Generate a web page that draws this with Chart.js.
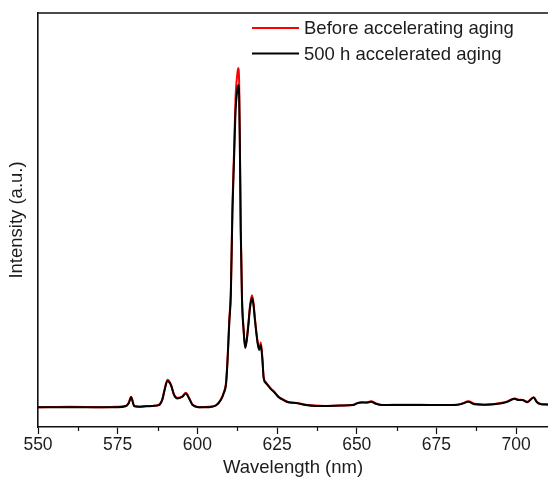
<!DOCTYPE html>
<html>
<head>
<meta charset="utf-8">
<script src="https://cdn.jsdelivr.net/npm/chart.js@4.4.0/dist/chart.umd.min.js"></script>
<style>
  html, body { margin: 0; padding: 0; background: #fff; }
</style>
</head>
<body>
<canvas id="spectrum" width="548" height="477"></canvas>
<script>
// emission spectra, values (arbitrary units)
var wavelength = [550, 560, 570, 575, 577.5, 578.5, 579.2, 580.2, 581.8, 584, 586, 588, 589, 589.6, 590.6,
    591.7, 592.7, 593.8, 595.3, 596.4, 597.4, 598.5, 600.5, 603.7, 605.8, 607.4, 608.3, 609, 609.5, 610,
    610.5, 611, 611.5, 612, 612.5, 612.8, 613.1, 613.3, 613.6, 614, 614.5, 615, 615.5, 616, 616.5,
    617.1, 617.6, 618, 618.5, 619, 619.4, 619.9, 620.4, 620.8, 621.5, 622.3, 623, 624, 625.5, 627,
    628.5, 631, 634, 637, 640, 645, 649, 650, 651.5, 653, 654.5, 656, 658, 665, 675,
    681, 683, 685, 687, 690, 695, 697, 699.5, 700.8, 702, 703.5, 705.5, 706.5, 708, 710];

var beforeAging = [48, 49, 48, 49, 51, 59, 73, 51, 49, 51, 51, 54, 67, 87, 114,
    103, 78, 70, 74, 83, 70, 54, 48, 49, 52, 67, 84, 108, 170, 258,
    330, 535, 665, 800, 850, 867, 835, 715, 485, 312, 237, 193, 213, 250, 292,
    318, 300, 267, 230, 201, 189, 204, 166, 120, 108, 100, 93, 86, 73, 66,
    60, 58, 54, 52, 51, 52, 54, 57, 60, 59, 62, 57, 53, 54, 53,
    54, 56, 62, 56, 54, 58, 61, 69, 66, 65, 61, 72, 61, 55, 55];

var afterAging = [48, 48, 48, 48, 50, 58, 72, 50, 49, 50, 51, 53, 66, 85, 111,
    101, 77, 69, 73, 81, 69, 53, 48, 48, 52, 66, 82, 105, 165, 250,
    320, 520, 645, 766, 812, 826, 800, 700, 476, 307, 234, 191, 210, 246, 287,
    312, 295, 263, 227, 198, 186, 198, 162, 118, 106, 99, 92, 85, 72, 65,
    60, 58, 53, 51, 51, 52, 53, 57, 59, 59, 61, 56, 53, 53, 53,
    53, 56, 61, 55, 54, 57, 60, 68, 65, 65, 60, 71, 60, 55, 54];

var seriesLabels = ['Before accelerating aging', '500 h accelerated aging'];
var xMin = 550, xMax = 710, xStep = 25;

function points(vals) {
    return wavelength.map(function (w, i) { return { x: w, y: vals[i] }; });
}

var textColor = '#1c1c1c';
var frameColor = '#111';

// top frame line + minor ticks on x axis
var framePlugin = {
    id: 'frame',
    afterDraw: function (chart) {
        var ctx = chart.ctx, a = chart.chartArea, sx = chart.scales.x;
        ctx.save();
        ctx.strokeStyle = frameColor;
        ctx.lineWidth = 1.6;
        ctx.beginPath();
        ctx.moveTo(a.left, a.top);
        ctx.lineTo(a.right, a.top);
        ctx.stroke();
        ctx.lineWidth = 1.2;
        for (var v = xMin + xStep / 2; v <= xMax; v += xStep) {
            var px = Math.round(sx.getPixelForValue(v)) + 0.5;
            ctx.beginPath();
            ctx.moveTo(px, a.bottom);
            ctx.lineTo(px, a.bottom + 4);
            ctx.stroke();
        }
        ctx.restore();
    }
};

// legend inside the plot, top right
var legendPlugin = {
    id: 'insideLegend',
    afterDraw: function (chart) {
        var ctx = chart.ctx;
        ctx.save();
        ctx.font = '18.5px "Liberation Sans", Arial, sans-serif';
        ctx.textBaseline = 'middle';
        ctx.fillStyle = textColor;
        chart.data.datasets.forEach(function (ds, i) {
            var y = 28 + i * 25.5;
            ctx.strokeStyle = ds.borderColor;
            ctx.lineWidth = 2;
            ctx.beginPath();
            ctx.moveTo(252, y);
            ctx.lineTo(299, y);
            ctx.stroke();
            ctx.fillText(ds.label, 304, y + 1);
        });
        ctx.restore();
    }
};

var ctx = document.getElementById('spectrum').getContext('2d');
var myChart = new Chart(ctx, {
    type: 'line',
    data: {
        datasets: [{
            label: seriesLabels[0],
            data: points(beforeAging),
            borderColor: '#ff0000',
            borderWidth: 2,
            pointRadius: 0,
            cubicInterpolationMode: 'monotone',
            order: 1
        }, {
            label: seriesLabels[1],
            data: points(afterAging),
            borderColor: '#000000',
            borderWidth: 2,
            pointRadius: 0,
            cubicInterpolationMode: 'monotone',
            order: 0
        }]
    },
    options: {
        responsive: false,
        animation: false,
        layout: { padding: { top: 13, right: 0, left: 0, bottom: 0 } },
        plugins: {
            legend: { display: false },
            tooltip: { enabled: false }
        },
        scales: {
            x: {
                type: 'linear',
                min: xMin,
                max: xMax,
                border: { display: true, color: frameColor, width: 1.6 },
                grid: { display: true, drawOnChartArea: false, drawTicks: true, tickLength: 7, tickColor: frameColor, tickWidth: 1.2 },
                ticks: {
                    stepSize: xStep,
                    includeBounds: false,
                    padding: 1,
                    color: textColor,
                    font: { family: '"Liberation Sans", Arial, sans-serif', size: 17.5 },
                    maxRotation: 0,
                    autoSkip: false
                },
                title: {
                    display: true,
                    text: 'Wavelength (nm)',
                    color: textColor,
                    font: { family: '"Liberation Sans", Arial, sans-serif', size: 18.5, lineHeight: 1 },
                    padding: { top: 0, bottom: 0 }
                },
                afterFit: function (scale) { scale.height = 50; }
            },
            y: {
                min: 0,
                max: 1000,
                border: { display: true, color: frameColor, width: 1.6 },
                grid: { display: true, drawOnChartArea: false, drawTicks: false },
                ticks: { display: false },
                title: {
                    display: true,
                    text: 'Intensity (a.u.)',
                    color: textColor,
                    font: { family: '"Liberation Sans", Arial, sans-serif', size: 18.5, lineHeight: 1 },
                    padding: { top: 8, bottom: 0 }
                },
                afterFit: function (scale) { scale.width = 38; }
            }
        }
    },
    plugins: [framePlugin, legendPlugin]
});
</script>
</body>
</html>
